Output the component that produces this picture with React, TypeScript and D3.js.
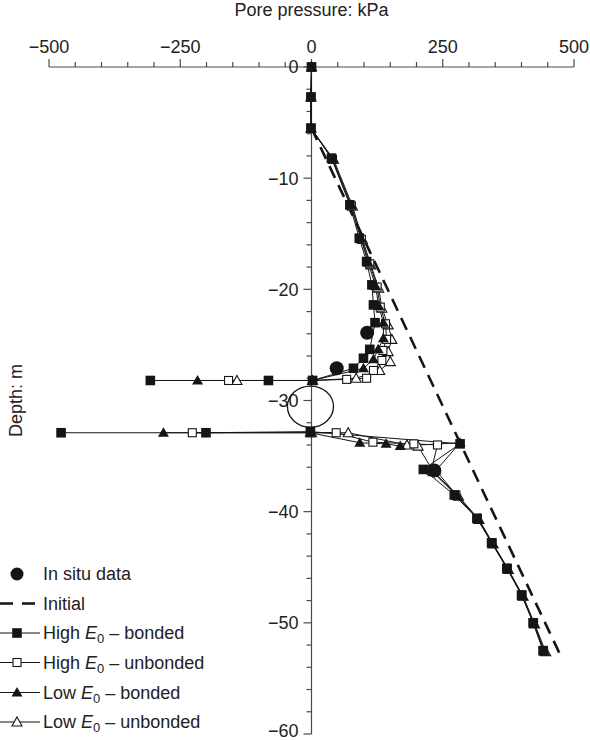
import React from "react";
import * as d3 from "d3";

type P = [number, number] | null;

// Pore pressure (kPa), depth (m, negative down); null = break across tunnel
const highBonded: P[] = [
  [0, 0], [-1, -2.7], [-1, -5.5], [38, -8.2], [73, -12.4], [91, -15.4], [105, -17.5], [115, -19.6],
  [118, -21.4], [121, -23.0], [111, -25.4], [99, -26.2], [80, -27.1], [2, -28.2], [-82, -28.2], [-307, -28.2],
  null,
  [-477, -32.9], [-201, -32.9], [-2, -32.8], [283, -33.9], [213, -36.2], [272, -38.5], [315, -40.6],
  [343, -42.8], [372, -45.1], [400, -47.5], [422, -50.0], [441, -52.5],
];
const highUnbonded: P[] = [
  [0, 0], [-1, -2.7], [-1, -5.5], [40, -8.3], [76, -12.5], [95, -15.5], [111, -17.7], [125, -19.8],
  [131, -21.6], [141, -23.1], [143, -24.5], [136, -25.5], [134, -26.4], [118, -27.3], [105, -28.0], [67, -28.1],
  [2, -28.2], [-158, -28.2],
  null,
  [-227, -32.9], [-2, -32.9], [47, -32.9], [117, -33.75], [195, -33.9], [240, -34.0], [228, -36.3],
  [275, -38.5], [316, -40.6], [344, -42.8], [373, -45.1], [401, -47.5], [423, -50.0], [442, -52.5],
];
const lowBonded: P[] = [
  [0, 0], [-1, -2.7], [-1, -5.5], [40, -8.3], [75, -12.4], [94, -15.4], [108, -17.6], [122, -19.7],
  [128, -21.5], [137, -23.0], [137, -24.4], [127, -25.4], [118, -26.3], [99, -27.1], [2, -28.2], [-217, -28.2],
  null,
  [-282, -32.9], [-3, -32.9], [92, -33.8], [142, -33.9], [169, -34.1], [283, -33.8], [237, -36.3],
  [278, -38.6], [318, -40.7], [345, -42.9], [374, -45.2], [402, -47.6], [424, -50.1], [444, -52.6],
];
const lowUnbonded: P[] = [
  [0, 0], [-1, -2.7], [-1, -5.5], [42, -8.3], [78, -12.5], [97, -15.5], [113, -17.8], [128, -19.9],
  [134, -21.7], [146, -23.2], [153, -24.5], [146, -25.6], [150, -26.5], [130, -27.3], [85, -28.0],
  [2, -28.2], [-142, -28.2],
  null,
  [0, -32.9], [70, -32.9], [182, -34.0], [203, -34.1], [232, -36.4], [280, -38.6], [319, -40.7],
  [346, -42.9], [375, -45.2], [403, -47.6], [425, -50.1], [446, -52.6],
];
const inSitu: [number, number][] = [[106, -23.9], [48, -27.1], [234, -36.3]];
const initial: [number, number][] = [[0, -5.5], [472, -52.7]];
const tunnel = { u: -2, depth: -30.55, radius: 1.85 };

const xMajor = [-500, -250, 0, 250, 500];
const xMinor = d3.range(-500, 501, 50);
const yMajor = [0, -10, -20, -30, -40, -50, -60];
const yMinor = d3.range(0, -61, -2);

const fmt = (v: number) => (v < 0 ? "\u2212" + Math.abs(v) : String(v));

const FONT = "'Liberation Sans', Arial, sans-serif";
const AX = "#4a4a4a";
const INK = "#151515";
const FS = 18;

type Kind = "fsq" | "osq" | "ftri" | "otri" | "circ";

function Marker({ kind, x, y }: { kind: Kind; x: number; y: number }) {
  if (kind === "fsq") return <rect x={x - 4.8} y={y - 4.8} width={9.6} height={9.6} fill={INK} />;
  if (kind === "osq")
    return <rect x={x - 4} y={y - 4} width={8} height={8} fill="#fff" stroke={INK} strokeWidth={1.1} />;
  if (kind === "ftri")
    return <path d={`M${x},${y - 5.5}L${x + 5.5},${y + 4}L${x - 5.5},${y + 4}Z`} fill={INK} />;
  if (kind === "otri")
    return (
      <path d={`M${x},${y - 5}L${x + 5},${y + 4}L${x - 5},${y + 4}Z`} fill="#fff" stroke={INK} strokeWidth={1.1} />
    );
  return <circle cx={x} cy={y} r={7} fill={INK} />;
}

export default function App() {
  const W = 590, H = 740;
  const x = d3.scaleLinear().domain([-500, 500]).range([49, 574]);
  const y = d3.scaleLinear().domain([0, -60]).range([67, 734]);

  const line = d3
    .line<P>()
    .defined((d) => d !== null)
    .x((d) => x((d as [number, number])[0]))
    .y((d) => y((d as [number, number])[1]));

  const series: { data: P[]; kind: Kind }[] = [
    { data: lowUnbonded, kind: "otri" },
    { data: highUnbonded, kind: "osq" },
    { data: lowBonded, kind: "ftri" },
    { data: highBonded, kind: "fsq" },
  ];

  const legendItems: { label: string; kind?: Kind; dashed?: boolean; e0?: [string, string] }[] = [
    { label: "In situ data", kind: "circ" },
    { label: "Initial", dashed: true },
    { label: "", kind: "fsq", e0: ["High ", " \u2013 bonded"] },
    { label: "", kind: "osq", e0: ["High ", " \u2013 unbonded"] },
    { label: "", kind: "ftri", e0: ["Low ", " \u2013 bonded"] },
    { label: "", kind: "otri", e0: ["Low ", " \u2013 unbonded"] },
  ];
  const legendY = [574, 603.5, 633, 662.5, 692.5, 722];

  const x0 = x(0);
  const yTop = y(0);
  const tunnelRy = y(tunnel.depth - tunnel.radius) - y(tunnel.depth);

  return (
    <svg width={W} height={H} style={{ position: "absolute", left: 0, top: 0, background: "#fff" }} fontFamily={FONT}>
      {/* Title */}
      <text x={x0} y={16} textAnchor="middle" fontSize={FS} fill="#222">
        Pore pressure: kPa
      </text>
      {/* Top axis */}
      <line x1={x(-500)} x2={x(500)} y1={yTop} y2={yTop} stroke={AX} strokeWidth={1.2} />
      {xMinor.map((v) => (
        <line key={"xm" + v} x1={x(v)} x2={x(v)} y1={yTop} y2={yTop - (xMajor.includes(v) ? 8 : 5)} stroke={AX} strokeWidth={1.2} />
      ))}
      {xMajor.map((v) => (
        <text key={"xl" + v} x={x(v)} y={53} textAnchor="middle" fontSize={FS} fill="#222">
          {fmt(v)}
        </text>
      ))}
      {/* Y axis */}
      <line x1={x0} x2={x0} y1={yTop} y2={y(-60)} stroke={AX} strokeWidth={1.2} />
      {yMinor.map((v) => (
        <line key={"ym" + v} x1={x0} x2={x0 - (yMajor.includes(v) ? 8 : 5)} y1={y(v)} y2={y(v)} stroke={AX} strokeWidth={1.2} />
      ))}
      {yMajor.map((v) => (
        <text key={"yl" + v} x={x0 - 13} y={Math.min(y(v), H - 9)} dy="0.36em" textAnchor="end" fontSize={FS} fill="#222">
          {fmt(v)}
        </text>
      ))}
      <text transform={`translate(22,${(y(0) + y(-60)) / 2}) rotate(-90)`} textAnchor="middle" fontSize={FS} fill="#222">
        Depth: m
      </text>

      {/* Tunnel */}
      <ellipse cx={x(tunnel.u)} cy={y(tunnel.depth)} rx={tunnelRy * 1.12} ry={tunnelRy} fill="none" stroke={INK} strokeWidth={1.3} />

      {/* Initial */}
      <path d={d3.line()(initial.map((d) => [x(d[0]), y(d[1])]))!} fill="none" stroke={INK} strokeWidth={2.6} strokeDasharray="13,8" />

      {/* Series lines */}
      {series.map((s, i) => (
        <path key={"l" + i} d={line(s.data)!} fill="none" stroke={INK} strokeWidth={1} />
      ))}
      {series.map((s, i) =>
        s.data.filter((d) => d !== null).map((d, j) => (
          <Marker key={"m" + i + "_" + j} kind={s.kind} x={x(d![0])} y={y(d![1])} />
        ))
      )}
      {inSitu.map((d, j) => (
        <Marker key={"is" + j} kind="circ" x={x(d[0])} y={y(d[1])} />
      ))}

      {/* Legend */}
      {legendItems.map((it, i) => {
        const ly = legendY[i];
        return (
          <g key={"lg" + i}>
            {it.dashed ? (
              <path d={`M0,${ly}H37`} stroke={INK} strokeWidth={2.6} strokeDasharray="13,9" />
            ) : it.kind === "circ" ? (
              <circle cx={17} cy={ly} r={6.5} fill={INK} />
            ) : (
              <>
                <line x1={0} x2={40} y1={ly} y2={ly} stroke={INK} strokeWidth={1} />
                <Marker kind={it.kind!} x={17} y={ly} />
              </>
            )}
            <text x={43} y={ly} dy="0.36em" fontSize={FS} fill="#222">
              {it.e0 ? (
                <>
                  {it.e0[0]}
                  <tspan fontStyle="italic">E</tspan>
                  <tspan fontSize={13} dy="4">0</tspan>
                  <tspan dy="-4">{it.e0[1]}</tspan>
                </>
              ) : (
                it.label
              )}
            </text>
          </g>
        );
      })}
    </svg>
  );
}
